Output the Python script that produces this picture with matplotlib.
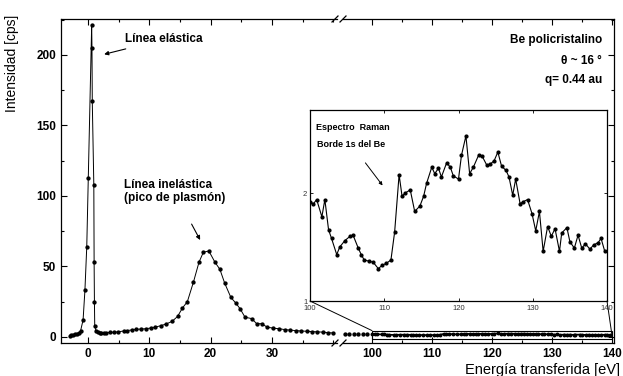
import matplotlib
matplotlib.use("Agg")
import matplotlib.pyplot as plt
from matplotlib.patches import Rectangle, ConnectionPatch
from matplotlib.ticker import MultipleLocator

plt.rcParams['font.family'] = ['Liberation Sans', 'DejaVu Sans']
plt.rcParams['font.weight'] = 'bold'

# espectro completo, tramo 0-40 eV
e_low = [-3.0, -2.7, -2.4, -2.1, -1.8, -1.5, -1.2, -0.8, -0.5, -0.2, 0.05,
         0.6, 0.65, 0.7, 0.95, 1.0, 1.05, 1.1, 1.3, 1.6, 1.9, 2.2, 2.6, 3.0,
         3.6, 4.2, 4.9, 5.8, 6.4, 7.2, 7.9, 8.7, 9.4, 10.2, 11.0, 11.9, 12.8,
         13.7, 14.6, 15.4, 16.2, 17.2, 18.1, 18.8, 19.7, 20.7, 21.5, 22.3,
         23.3, 24.1, 24.8, 25.6, 26.7, 27.5, 28.3, 29.2, 30.2, 31.2, 32.1,
         33.0, 33.9, 34.8, 35.7, 36.5, 37.4, 38.3, 39.2, 40.0]
i_low = [1, 1.2, 1.5, 1.8, 2.2, 3, 4.5, 12, 33, 64, 113,
         221, 205, 167, 108, 53, 25, 8, 4.5, 3.2, 2.8, 2.6, 2.8, 3.0,
         3.2, 3.3, 3.6, 4.2, 4.5, 5.0, 5.4, 5.6, 5.8, 6.3, 7.0, 8.0, 9.3,
         11, 14.5, 20.5, 25, 39, 53, 60, 61, 53, 48, 38,
         28, 24, 20, 14, 13, 9.4, 9.4, 7, 6.2, 5.8, 5.2,
         4.8, 4.5, 4.2, 4.0, 3.8, 3.6, 3.4, 3.0, 2.8]

# tramo previo a 100 eV
e_mid = [95.5, 96.2, 97.0, 97.7, 98.5, 99.2]
i_mid = [2.3, 2.2, 2.1, 2.2, 2.0, 2.0]

# espectro Raman (borde 1s del Be)
e_raman = [100.0, 100.45, 100.9, 101.6, 102.0, 102.5, 102.9, 103.6, 104.0, 104.7,
           105.4, 105.8, 106.5, 106.9, 107.3, 107.9, 108.5, 109.2, 109.7, 110.3,
           110.9, 111.4, 112.0, 112.4, 112.8, 113.5, 114.1, 114.8, 115.3, 115.7,
           116.4, 116.8, 117.3, 117.7, 118.4, 118.9, 119.3, 120.0, 120.4, 121.0,
           121.5, 122.0, 122.7, 123.2, 123.8, 124.3, 124.8, 125.3, 125.8, 126.4,
           126.8, 127.3, 127.7, 128.3, 128.7, 129.3, 129.9, 130.4, 130.9, 131.4,
           132.0, 132.5, 133.0, 133.6, 133.9, 134.6, 135.0, 135.6, 136.1, 136.6,
           137.1, 137.7, 138.2, 138.8, 139.2, 139.7]
i_raman = [1.92, 1.90, 1.94, 1.78, 1.94, 1.66, 1.58, 1.43, 1.50, 1.56,
           1.60, 1.61, 1.49, 1.43, 1.38, 1.37, 1.36, 1.30, 1.33, 1.35,
           1.38, 1.64, 2.17, 1.97, 2.00, 2.03, 1.83, 1.88, 1.97, 2.09,
           2.24, 2.18, 2.23, 2.15, 2.28, 2.24, 2.16, 2.13, 2.35, 2.53,
           2.18, 2.24, 2.35, 2.34, 2.26, 2.27, 2.30, 2.38, 2.25, 2.21,
           2.15, 1.98, 2.13, 1.90, 1.92, 1.94, 1.81, 1.65, 1.83, 1.46,
           1.69, 1.60, 1.67, 1.46, 1.63, 1.68, 1.55, 1.49, 1.61, 1.49,
           1.53, 1.48, 1.52, 1.54, 1.58, 1.46]

fig = plt.figure(figsize=(6.23, 3.76), dpi=100)
W, H = 623.0, 376.0
bot = (H - 343) / H
hgt = (343 - 19) / H

ax1 = fig.add_axes([61 / W, bot, (337 - 61) / W, hgt])
ax2 = fig.add_axes([343 / W, bot, (614 - 343) / W, hgt])

ax1.plot(e_low, i_low, '-o', color='k', lw=0.7, ms=2.1)
ax2.plot(e_mid, i_mid, 'o', color='k', ms=2.1)
ax2.plot(e_raman, i_raman, '-o', color='k', lw=1.2, ms=1.8)

ax1.set_xlim(-4.4, 40.6)
ax2.set_xlim(95.17, 140.33)
for ax in (ax1, ax2):
    ax.set_ylim(-4.3, 225.5)
    ax.tick_params(direction='in', which='both', top=True, right=True,
                   labelsize=8.5, width=0.8)
    ax.tick_params(which='major', length=4)
    ax.tick_params(which='minor', length=2)
    for s in ax.spines.values():
        s.set_linewidth(0.9)

ax1.set_xticks([0, 10, 20, 30])
ax1.xaxis.set_minor_locator(MultipleLocator(5))
ax1.set_yticks([0, 50, 100, 150, 200])
ax1.yaxis.set_minor_locator(MultipleLocator(25))
ax1.spines['right'].set_visible(False)
ax1.tick_params(right=False, which='both')

ax2.set_xticks([100, 110, 120, 130, 140])
ax2.xaxis.set_minor_locator(MultipleLocator(5))
ax2.set_yticks([0, 50, 100, 150, 200])
ax2.yaxis.set_minor_locator(MultipleLocator(25))
ax2.spines['left'].set_visible(False)
ax2.tick_params(left=False, labelleft=False, which='both')

# marcas de corte del eje
for yb in (bot, bot + hgt):
    for xp in (335, 343):
        fig.add_artist(plt.Line2D([(xp - 3) / W, (xp + 3) / W],
                                  [yb - 3 / H, yb + 3 / H],
                                  color='k', lw=0.9, transform=fig.transFigure))

# recuadro de la region ampliada
ax2.add_patch(Rectangle((100, -1.8), 40, 6.3, fill=False, lw=0.8, color='k'))

fig.text(12 / W, 1 - 15 / H, 'Intensidad [cps]', rotation=90, ha='center',
         va='top', fontsize=10, fontweight='normal')
fig.text(620 / W, 1 - 370 / H, 'Energía transferida [eV]', ha='right',
         va='center', fontsize=10.5, fontweight='normal')

ax1.annotate('Línea elástica', xy=(2.2, 200), xytext=(6.0, 211),
             fontsize=8.5, va='center',
             arrowprops=dict(arrowstyle='-|>', color='k', lw=0.8,
                             mutation_scale=6))
ax1.annotate('Línea inelástica\n(pico de plasmón)', xy=(18.5, 67),
             xytext=(5.8, 103), fontsize=8.5, va='center',
             linespacing=1.1,
             arrowprops=dict(arrowstyle='-|>', color='k', lw=0.8,
                             mutation_scale=6, shrinkA=14))

ax2.text(0.955, 0.935, 'Be policristalino', transform=ax2.transAxes,
         ha='right', va='center', fontsize=8.5)
ax2.text(0.955, 0.87, 'θ ~ 16 °', transform=ax2.transAxes,
         ha='right', va='center', fontsize=8.5)
ax2.text(0.955, 0.812, 'q= 0.44 au', transform=ax2.transAxes,
         ha='right', va='center', fontsize=8.5)

# inserto: espectro Raman
ax3 = fig.add_axes([310 / W, (H - 301) / H, 297 / W, 191 / H])
ax3.plot(e_raman, i_raman, '-o', color='k', lw=0.8, ms=2.0)
ax3.set_xlim(100, 140)
ax3.set_ylim(1, 2.77)
ax3.set_xticks([100, 110, 120, 130, 140])
ax3.set_yticks([1, 2])
ax3.tick_params(direction='in', labelsize=5.5, length=2, width=0.6, pad=1,
                right=True, top=True, labelcolor='#333333')
ax3.tick_params(axis='x', pad=3)
ax3.tick_params(axis='y', pad=2)
for lab in ax3.get_xticklabels() + ax3.get_yticklabels():
    lab.set_fontweight('normal')
for s in ax3.spines.values():
    s.set_linewidth(0.9)
ax3.text(0.02, 0.91, 'Espectro  Raman', transform=ax3.transAxes,
         fontsize=6.5, va='center')
ax3.annotate('Borde 1s del Be', xy=(110.0, 2.05), xytext=(101.0, 2.45),
             fontsize=6.5, va='center',
             arrowprops=dict(arrowstyle='-|>', color='k', lw=0.7,
                             mutation_scale=5, shrinkA=10))

for xa, ya, xb, yb in [(100, 1, 100, 4.5), (140, 1, 140, 1.0)]:
    con = ConnectionPatch(xyA=(xa, ya), coordsA=ax3.transData,
                          xyB=(xb, yb), coordsB=ax2.transData,
                          color='k', lw=0.7)
    fig.add_artist(con)

fig.savefig('out.png', dpi=100)
